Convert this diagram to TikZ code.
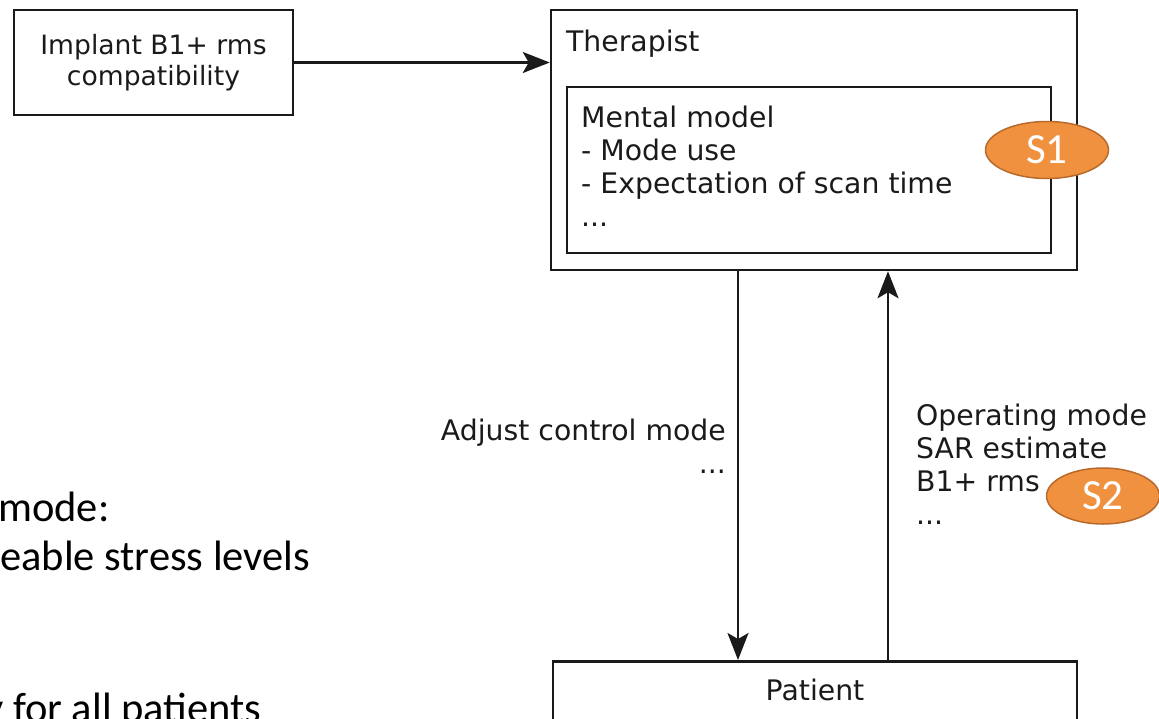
\documentclass[tikz,border=0pt]{standalone}
\usepackage{fontspec}
\setmainfont{DejaVu Sans}
\newfontfamily\slidefont{Carlito}
\usepackage{xcolor}
\definecolor{tag}{HTML}{F0913F}
\definecolor{tagDark}{HTML}{B86A2C}
\definecolor{ink}{HTML}{1A1A1A}
\usetikzlibrary{arrows.meta,positioning,shapes.geometric}

\begin{document}
\begin{tikzpicture}[x=1pt,y=-1pt,
  box/.style={draw=ink,line width=2.5pt,rectangle,inner sep=0pt},
  txt/.style={font=\fontsize{28.3}{33}\selectfont,text=ink,inner sep=0pt},
  slide/.style={font=\slidefont\fontsize{42.5}{48}\selectfont,text=black,inner sep=0pt,anchor=base west},
  tagmark/.style={ellipse,draw=tagDark,line width=1.5pt,fill=tag,text=white,inner sep=0pt,font=\slidefont\fontsize{43}{43}\selectfont},
  arr/.style={-{Stealth[length=27pt,width=21pt,inset=6pt]},line width=2.5pt,draw=ink}
]
\useasboundingbox (0,0) rectangle (1159,718);
\clip (0,0) rectangle (1159,718);
\node[box,txt,font=\fontsize{26.6}{31}\selectfont,minimum width=279,minimum height=105,align=center] (implant) at (153.5,62.5) {Implant B1+ rms\\compatibility};
\node[box,minimum width=526,minimum height=260] (therapist) at (814,140) {};
\node[txt,anchor=base west] (therapistlbl) at (566,51) {Therapist};
\node[box,minimum width=484,minimum height=166] (mental) at (809,170) {};
\node[txt,anchor=north west,align=left] (mentallbl) at (581,106) {Mental model\\- Mode use\\- Expectation of scan time\\...};
\node[tagmark,minimum width=123,minimum height=57] (s1) at (1047,150) {S1};
\node[box,anchor=north,minimum width=524,minimum height=120] (patient) at (815,660) {};
\node[txt,anchor=base] (patientlbl) at (815,700) {Patient};
\coordinate (dn) at (738,0);
\coordinate (up) at (888,0);
\node[txt,anchor=north east,align=right] (adjust) at (726,419) {Adjust control mode\\...};
\node[txt,anchor=north west,align=left] (feedback) at (916,404) {Operating mode\\SAR estimate\\B1+ rms\\...};
\node[tagmark,minimum width=113,minimum height=56] (s2) at (1103,496) {S2};
\node[slide] (mode) at (-2,521) {mode:};
\node[slide] (stress) at (0,570) {eable stress levels};
\node[slide] (patients) at (-16,722) {y for all patients};
\draw[arr] (implant.east) -- (therapist.west |- implant.east);
\draw[arr] (therapist.south -| dn) -- (patient.north -| dn);
\draw[arr] (patient.north -| up) -- (therapist.south -| up);
\end{tikzpicture}
\end{document}
